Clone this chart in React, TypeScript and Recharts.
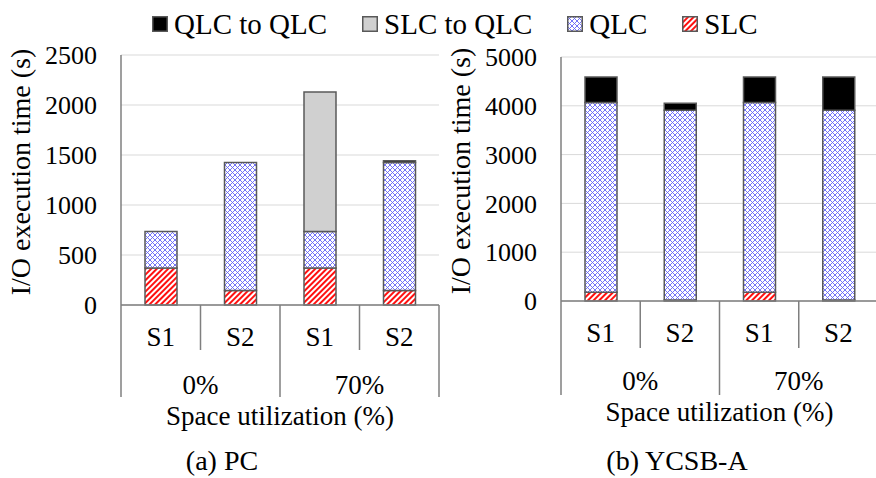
import { Bar, BarChart, CartesianGrid, XAxis, YAxis } from "recharts"

const FONT = "Liberation Serif"

const categories = ["S1", "S2", "S1", "S2"]
const groups = ["0%", "0%", "70%", "70%"]

// (a) PC
const pcSlc = [370, 145, 370, 145]
const pcQlc = [365, 1280, 365, 1280]
const pcSlcToQlc = [0, 0, 1395, 0]
const pcQlcToQlc = [0, 0, 0, 18]
const pcTicks = [0, 500, 1000, 1500, 2000, 2500]

// (b) YCSB-A
const ycsbSlc = [180, 20, 180, 20]
const ycsbQlc = [3890, 3890, 3890, 3890]
const ycsbSlcToQlc = [0, 0, 0, 0]
const ycsbQlcToQlc = [520, 140, 520, 680]
const ycsbTicks = [0, 1000, 2000, 3000, 4000, 5000]

const legendItems = ["QLC to QLC", "SLC to QLC", "QLC", "SLC"]

function buildRows(slc: number[], qlc: number[], slcToQlc: number[], qlcToQlc: number[]) {
    return categories.map((cat, i) => ({
        cat,
        group: groups[i],
        slc: slc[i],
        qlc: qlc[i],
        slcToQlc: slcToQlc[i],
        qlcToQlc: qlcToQlc[i],
    }))
}

function Patterns({ id }: { id: string }) {
    return (
        <defs>
            <pattern id={`${id}-qlc`} width="5" height="5" patternUnits="userSpaceOnUse">
                <rect width="5" height="5" fill="#ffffff" />
                <path d="M0,0 L5,5 M5,0 L0,5" stroke="#6464f7" strokeWidth="0.9" />
            </pattern>
            <pattern id={`${id}-slc`} width="4" height="4" patternUnits="userSpaceOnUse" patternTransform="rotate(45)">
                <rect width="4" height="4" fill="#ffffff" />
                <rect width="2" height="4" fill="#ff1010" />
            </pattern>
        </defs>
    )
}

const fills = (id: string) => ({
    "QLC to QLC": "#000000",
    "SLC to QLC": "#d0d0d0",
    QLC: `url(#${id}-qlc)`,
    SLC: `url(#${id}-slc)`,
})

type ChartProps = {
    id: string
    rows: ReturnType<typeof buildRows>
    ticks: number[]
    left: number
    width: number
    marginTop: number
    plotBottom: number
    marginRight: number
    innerLen: number
    outerLen: number
}

const HEIGHT = 478
const Y_AXIS_W = 121
const BORDER = "#7f7f7f"

function StackedChart({ id, rows, ticks, left, width, marginTop, plotBottom, marginRight, innerLen, outerLen }: ChartProps) {
    const band = (width - Y_AXIS_W - marginRight) / categories.length
    const f = fills(id)
    const yMax = ticks[ticks.length - 1]

    const renderTick = (props: any) => {
        const { x, y, index, payload } = props
        const isGroupStart = index === 0 || groups[index] !== groups[index - 1]
        const isLast = index === categories.length - 1
        const groupEnd = isLast || groups[index + 1] !== groups[index]
        return (
            <g>
                <text x={x} y={y + 41} textAnchor="middle" fontSize={27} fontFamily={FONT} fill="#000">
                    {payload.value}
                </text>
                <line
                    x1={x - band / 2}
                    x2={x - band / 2}
                    y1={y}
                    y2={y + (isGroupStart ? outerLen : innerLen)}
                    stroke={BORDER}
                    strokeWidth={1.5}
                />
                {isLast && (
                    <line x1={x + band / 2} x2={x + band / 2} y1={y} y2={y + outerLen} stroke={BORDER} strokeWidth={1.5} />
                )}
                {isGroupStart && !groupEnd && (
                    <text x={x + band / 2} y={y + 89} textAnchor="middle" fontSize={27} fontFamily={FONT} fill="#000">
                        {groups[index]}
                    </text>
                )}
            </g>
        )
    }

    return (
        <div style={{ position: "absolute", left, top: 0 }}>
            <BarChart
                width={width}
                height={HEIGHT}
                data={rows}
                barSize={32}
                margin={{ top: marginTop, right: marginRight, left: 0, bottom: 0 }}
            >
                <Patterns id={id} />
                <CartesianGrid vertical={false} stroke="#d9d9d9" strokeWidth={1} />
                <XAxis
                    dataKey="cat"
                    height={HEIGHT - plotBottom}
                    interval={0}
                    tickSize={0}
                    tickMargin={0}
                    tickLine={false}
                    axisLine={{ stroke: BORDER, strokeWidth: 1.5 }}
                    tick={renderTick}
                    label={{
                        content: (p: any) => {
                            const vb = p.viewBox || {}
                            return (
                                <text
                                    x={vb.x + vb.width / 2}
                                    y={vb.y + 120}
                                    textAnchor="middle"
                                    fontSize={27}
                                    fontFamily={FONT}
                                    fill="#000"
                                >
                                    Space utilization (%)
                                </text>
                            )
                        },
                    }}
                />
                <XAxis xAxisId="top" orientation="top" dataKey="cat" height={0} tick={false} tickLine={false} axisLine={{ stroke: BORDER, strokeWidth: 1.5 }} />
                <YAxis
                    width={Y_AXIS_W}
                    domain={[0, yMax]}
                    ticks={ticks}
                    interval={0}
                    tickSize={0}
                    tickMargin={24}
                    tickLine={false}
                    axisLine={{ stroke: BORDER, strokeWidth: 1.5 }}
                    tick={{ fill: "#000", fontSize: 26, fontFamily: FONT }}
                    label={{
                        content: () => {
                            const cy = (marginTop + plotBottom) / 2 - 8
                            return (
                                <text
                                    x={20}
                                    y={cy}
                                    dy="0.35em"
                                    transform={`rotate(-90, 20, ${cy})`}
                                    textAnchor="middle"
                                    fontSize={28}
                                    fontFamily={FONT}
                                    fill="#000"
                                >
                                    I/O execution time (s)
                                </text>
                            )
                        },
                    }}
                />
                <YAxis yAxisId="right" orientation="right" width={0} domain={[0, yMax]} tick={false} tickLine={false} axisLine={{ stroke: BORDER, strokeWidth: 1.5 }} />
                <Bar dataKey="slc" stackId="a" fill={f.SLC} stroke="#595959" strokeWidth={1.5} isAnimationActive={false} />
                <Bar dataKey="qlc" stackId="a" fill={f.QLC} stroke="#595959" strokeWidth={1.5} isAnimationActive={false} />
                <Bar dataKey="slcToQlc" stackId="a" fill={f["SLC to QLC"]} stroke="#595959" strokeWidth={1.5} isAnimationActive={false} />
                <Bar dataKey="qlcToQlc" stackId="a" fill={f["QLC to QLC"]} stroke="#595959" strokeWidth={1.5} isAnimationActive={false} />
            </BarChart>
        </div>
    )
}

function Legend() {
    return (
        <div
            style={{
                position: "absolute",
                left: 152,
                top: 8,
                display: "flex",
                alignItems: "center",
                height: 32,
                fontFamily: FONT,
                fontSize: 29,
                lineHeight: "32px",
                color: "#000",
                whiteSpace: "nowrap",
            }}
        >
            {legendItems.map((name, i) => {
                const id = `lg${i}`
                const f = fills(id) as Record<string, string>
                return (
                    <div key={name} style={{ display: "flex", alignItems: "center", marginRight: i < legendItems.length - 1 ? 35 : 0 }}>
                        <svg width={16} height={16} style={{ marginRight: 6 }}>
                            <Patterns id={id} />
                            <rect x={0.75} y={0.75} width={14.5} height={14.5} fill={f[name]} stroke="#595959" strokeWidth={1.5} />
                        </svg>
                        <span>{name}</span>
                    </div>
                )
            })}
        </div>
    )
}

const titleStyle = {
    position: "absolute" as const,
    top: 445,
    fontFamily: FONT,
    fontSize: 28,
    lineHeight: "32px",
    color: "#000",
    whiteSpace: "nowrap" as const,
    transform: "translateX(-50%)",
}

export default function App() {
    return (
        <div
            style={{
                position: "absolute",
                left: 0,
                top: 0,
                width: 876,
                height: HEIGHT,
                overflow: "hidden",
                background: "#fff",
            }}
        >
            <StackedChart
                id="pc"
                rows={buildRows(pcSlc, pcQlc, pcSlcToQlc, pcQlcToQlc)}
                ticks={pcTicks}
                left={0}
                width={440}
                marginTop={55}
                plotBottom={305}
                marginRight={1}
                innerLen={45}
                outerLen={92}
            />
            <StackedChart
                id="ycsb"
                rows={buildRows(ycsbSlc, ycsbQlc, ycsbSlcToQlc, ycsbQlcToQlc)}
                ticks={ycsbTicks}
                left={440}
                width={440}
                marginTop={57}
                plotBottom={301}
                marginRight={2}
                innerLen={47}
                outerLen={94}
            />
            <Legend />
            <div style={{ ...titleStyle, left: 222 }}>(a) PC</div>
            <div style={{ ...titleStyle, left: 677 }}>(b) YCSB-A</div>
        </div>
    )
}
